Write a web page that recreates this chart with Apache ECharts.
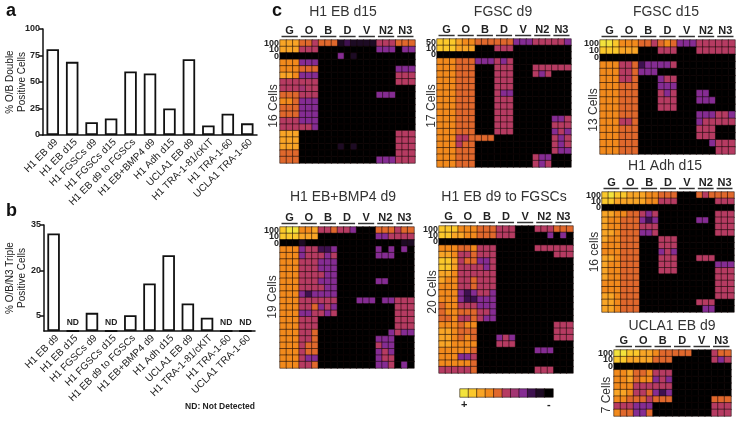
<!DOCTYPE html>
<html>
<head>
<meta charset="utf-8">
<style>html,body{margin:0;padding:0;background:#fff}#main{width:742px;height:422px}</style>
<script src="https://cdn.jsdelivr.net/npm/echarts@6/dist/echarts.min.js"></script>
</head>
<body>
<div id="main"></div>
<script>
var FONT = '"Liberation Sans", Arial, sans-serif';

var barCategories = ['H1 EB d9', 'H1 EB d15', 'H1 FGSCs d9', 'H1 FGSCs d15', 'H1 EB d9 to FGSCs', 'H1 EB+BMP4 d9', 'H1 Adh d15', 'UCLA1 EB d9', 'H1 TRA-1-81/cKIT', 'H1 TRA-1-60', 'UCLA1 TRA-1-60'];
var doublePositive = [81, 69, 12, 15.5, 60, 58, 25, 71.5, 9, 20, 11];
var triplePositive = [32.2, null, 6, null, 5.2, 15.7, 25, 9.1, 4.4, null, null];
var doubleTicks = [0, 25, 50, 75, 100];
var tripleTicks = [5, 20, 35];

var genes = ['G', 'O', 'B', 'D', 'V', 'N2', 'N3'];
var genesNoN2 = ['G', 'O', 'B', 'D', 'V', 'N3'];
var scaleLabels = ['100', '10', '0'];
var scaleLabelsFgsc = ['50', '10', '0'];

// level of each cell, 0 = black ... a = yellow, one group per gene
var h1EbD15 = [
	'888 665 666 121 111 555 666',
	'888 555 000 000 000 333 033',
	'000 000 000 301 000 000 000',
	'777 333 000 000 000 000 000',
	'777 666 000 000 000 000 333',
	'887 333 000 000 000 000 555',
	'555 555 000 000 000 000 555',
	'555 455 000 000 000 000 000',
	'666 555 000 000 000 333 000',
	'776 333 000 000 000 000 000',
	'666 333 000 000 000 000 000',
	'666 333 000 000 000 000 000',
	'555 333 000 000 000 000 000',
	'555 553 000 000 000 000 000',
	'888 000 000 000 000 000 555',
	'888 000 000 000 000 000 555',
	'888 000 000 101 000 000 555',
	'666 000 000 000 000 000 555',
	'666 000 000 000 000 333 555'
];
var fgscD9 = [
	'999 877 666 666 333 555 553',
	'999 888 000 555 000 000 000',
	'000 000 000 000 000 000 000',
	'777 666 333 535 000 000 000',
	'777 666 000 555 000 555 555',
	'777 666 000 555 000 535 000',
	'777 666 000 555 000 000 000',
	'777 666 000 555 000 000 000',
	'777 666 000 533 000 000 000',
	'777 666 000 555 000 000 000',
	'777 666 000 555 000 000 000',
	'777 666 000 555 000 000 000',
	'777 666 000 555 000 000 335',
	'777 666 000 555 000 000 555',
	'777 666 000 555 000 000 353',
	'777 556 666 000 000 000 535',
	'777 566 000 000 000 000 535',
	'777 666 000 000 000 000 533',
	'777 666 000 000 000 533 000',
	'777 666 000 000 000 535 000'
];
var fgscD15 = [
	'aa9 777 665 676 333 555 555',
	'999 888 000 555 000 555 555',
	'000 000 000 000 000 000 000',
	'777 556 233 335 000 000 000',
	'777 556 333 000 000 000 000',
	'777 556 000 355 000 000 000',
	'777 666 000 333 000 000 000',
	'777 666 000 535 000 330 000',
	'777 666 000 555 000 333 000',
	'777 666 000 555 000 000 000',
	'777 666 000 000 000 333 553',
	'777 556 000 000 000 355 555',
	'777 666 000 000 000 555 000',
	'777 666 000 000 000 555 000',
	'777 666 000 000 000 003 555',
	'777 666 000 000 000 000 555'
];
var h1AdhD15 = [
	'9a9 988 877 666 000 656 666',
	'998 888 877 555 000 000 555',
	'000 000 000 000 000 000 000',
	'887 766 535 000 000 000 555',
	'877 666 323 000 000 330 555',
	'877 666 555 000 000 000 555',
	'887 666 335 000 000 000 555',
	'877 666 000 555 000 000 000',
	'777 666 000 555 000 000 000',
	'777 666 000 353 000 000 000',
	'887 666 000 555 000 555 000',
	'877 666 000 555 000 000 333',
	'877 666 000 555 000 000 555',
	'877 666 000 000 000 000 555',
	'777 666 000 000 000 000 555',
	'777 666 000 000 000 000 555',
	'887 666 000 000 000 000 555',
	'887 666 000 000 000 555 000',
	'887 666 000 000 000 033 000'
];
var ucla1EbD9 = [
	'aa9 988 766 666 000 566',
	'998 888 666 000 000 535',
	'000 000 000 000 000 000',
	'778 667 555 000 000 000',
	'778 677 353 000 000 000',
	'777 555 555 000 000 000',
	'887 556 323 000 000 000',
	'776 665 666 000 000 666',
	'555 333 000 000 000 555',
	'766 336 000 000 000 555'
];
var h1EbBmp4 = [
	'9aa 778 556 553 000 666 566',
	'999 888 000 000 000 335 555',
	'000 100 000 000 000 000 011',
	'777 355 223 000 000 303 030',
	'777 355 535 000 000 333 000',
	'777 555 333 000 000 000 000',
	'777 555 333 000 000 000 000',
	'777 555 533 000 000 000 000',
	'777 555 333 000 000 330 000',
	'777 555 533 000 000 000 000',
	'777 323 333 000 000 000 000',
	'777 555 555 000 333 033 555',
	'777 556 353 000 000 000 555',
	'777 335 535 000 000 000 555',
	'777 555 000 000 000 000 555',
	'777 555 000 000 000 000 555',
	'777 556 000 000 000 003 533',
	'777 556 000 000 000 333 000',
	'777 566 000 000 000 533 000',
	'777 566 000 000 000 353 000',
	'777 533 000 000 000 355 000',
	'777 556 000 000 000 335 030'
];
var h1EbD9ToFgsc = [
	'999 777 666 555 000 555 666',
	'998 877 666 555 000 003 030',
	'000 000 000 000 000 000 000',
	'777 667 555 000 000 555 555',
	'887 556 555 000 000 000 555',
	'998 566 335 000 000 000 000',
	'998 555 535 000 000 000 000',
	'887 555 555 000 000 000 000',
	'877 556 555 000 000 000 000',
	'777 556 555 000 000 000 000',
	'777 323 553 000 000 000 000',
	'777 322 333 000 000 000 000',
	'677 555 333 000 000 000 000',
	'677 666 553 000 000 000 000',
	'667 556 533 000 000 000 000',
	'777 677 000 000 000 000 555',
	'887 666 000 000 000 000 555',
	'887 676 000 353 000 000 555',
	'887 777 000 555 000 000 000',
	'777 776 000 000 000 333 000',
	'777 335 000 000 000 000 000',
	'777 776 000 000 000 000 000',
	'555 556 000 000 000 555 000'
];
var scaleLevels = [10, 9, 8, 7, 6, 5, 4, 3, 2, 1, 0];
var scaleEnds = ['+', '', '', '', '', '', '', '', '', '', '-'];

var palette = ['#000000', '#1d0b24', '#3e1150', '#852c93', '#a33572', '#b63b62', '#e0682c', '#f28a1c', '#f9a526', '#fbc82b', '#f3e33c'];

var panels = [
	{ title: 'H1 EB d15', cx: 343, ty: 12, left: 280, top: 40, width: 135, height: 123, rows: h1EbD15, genes: genes, ticks: scaleLabels, cells: '16 Cells', cellsX: 274, cellsY: 106 },
	{ title: 'FGSC d9', cx: 503, ty: 12, left: 437, top: 39, width: 134, height: 128, rows: fgscD9, genes: genes, ticks: scaleLabelsFgsc, cells: '17 Cells', cellsX: 432, cellsY: 106 },
	{ title: 'FGSC d15', cx: 666, ty: 12, left: 600, top: 40, width: 135, height: 114, rows: fgscD15, genes: genes, ticks: scaleLabels, cells: '13 Cells', cellsX: 594, cellsY: 110 },
	{ title: 'H1 Adh d15', cx: 665, ty: 166, left: 602, top: 192, width: 132, height: 120, rows: h1AdhD15, genes: genes, ticks: scaleLabels, cells: '16 cells', cellsX: 595, cellsY: 252 },
	{ title: 'UCLA1 EB d9', cx: 672, ty: 326, left: 614, top: 350, width: 117, height: 66, rows: ucla1EbD9, genes: genesNoN2, ticks: scaleLabels, cells: '7 Cells', cellsX: 607, cellsY: 395 },
	{ title: 'H1 EB+BMP4 d9', cx: 343, ty: 197, left: 280, top: 227, width: 134, height: 141, rows: h1EbBmp4, genes: genes, ticks: scaleLabels, cells: '19 Cells', cellsX: 273, cellsY: 297 },
	{ title: 'H1 EB d9 to FGSCs', cx: 504, ty: 197, left: 439, top: 226, width: 134, height: 147, rows: h1EbD9ToFgsc, genes: genes, ticks: scaleLabels, cells: '20 Cells', cellsX: 433, cellsY: 292 }
];

var grids = [], xAxes = [], yAxes = [], series = [], titles = [], graphics = [], heatIndexes = [];

function panelLetter(text, x, y) {
	graphics.push({ type: 'text', left: x, top: y, silent: true, style: { text: text, font: 'bold 18px ' + FONT, fill: '#111' } });
}

function addBars(opt) {
	var idx = grids.length;
	grids.push({ left: opt.left, top: opt.top, width: opt.width, height: opt.height });
	xAxes.push({
		gridIndex: idx, type: 'category', data: barCategories,
		axisLine: { lineStyle: { color: '#111', width: 1.5 } },
		axisTick: { alignWithLabel: true, length: 3, lineStyle: { color: '#111', width: 1.5 } },
		axisLabel: { interval: 0, rotate: 45, fontSize: 10, fontFamily: FONT, color: '#222', margin: 2, verticalAlign: 'top' }
	});
	yAxes.push({
		gridIndex: idx, type: 'value', min: 0, max: opt.max,
		splitLine: { show: false },
		axisLine: { show: true, lineStyle: { color: '#111', width: 1.5 } },
		axisTick: { show: true, length: 4, lineStyle: { color: '#111', width: 1.5 }, customValues: opt.ticks },
		axisLabel: { fontSize: 9, fontWeight: 'bold', fontFamily: FONT, color: '#222', margin: 3, customValues: opt.ticks },
		name: opt.name, nameLocation: 'middle', nameGap: opt.nameGap, nameRotate: 90, nameMoveOverlap: false,
		nameTextStyle: { fontSize: 10, lineHeight: 12, fontFamily: FONT, color: '#222' }
	});
	series.push({
		type: 'bar', xAxisIndex: idx, yAxisIndex: idx, barWidth: 12.5, silent: true,
		itemStyle: { color: '#fff', borderColor: '#111', borderWidth: 1.8 },
		data: opt.values.map(function(v) {
			if (v !== null) return v;
			return { value: 0, label: { show: true, position: 'top', distance: 3, formatter: 'ND', fontSize: 8.5, fontWeight: 'bold', fontFamily: FONT, color: '#222' } };
		})
	});
}

function addHeat(opt, rows, cols) {
	var idx = grids.length;
	grids.push({ left: opt.left, top: opt.top, width: opt.width, height: opt.height });
	xAxes.push(cols);
	xAxes[idx].gridIndex = idx;
	yAxes.push({
		gridIndex: idx, type: 'category', inverse: true,
		data: rows.map(function(r, i) { return (opt.ticks && opt.ticks[i]) || ''; }),
		axisLine: { show: false }, axisTick: { show: false }, splitLine: { show: false },
		axisLabel: { show: !!opt.ticks, interval: 0, fontSize: 9, fontWeight: 'bold', fontFamily: FONT, color: '#222', margin: 1 }
	});
	var cells = [];
	rows.forEach(function(levels, y) {
		levels.forEach(function(v, x) { cells.push([x, y, v]); });
	});
	heatIndexes.push(series.length);
	series.push({
		type: 'heatmap', xAxisIndex: idx, yAxisIndex: idx, silent: true, progressive: 0,
		itemStyle: { borderColor: 'rgba(20,8,8,0.55)', borderWidth: 1 },
		data: cells
	});
}

addBars({ left: 43, top: 29, width: 214, height: 106, max: 100, ticks: doubleTicks, values: doublePositive, name: '% O/B Double\nPositive Cells', nameGap: 15 });
addBars({ left: 44, top: 225, width: 211, height: 106, max: 35, ticks: tripleTicks, values: triplePositive, name: '% O/B/N3 Triple\nPositive Cells', nameGap: 16 });

panels.forEach(function(p) {
	var cols = [];
	p.genes.forEach(function(g) { cols.push(g, g, g); });
	addHeat(p, p.rows.map(function(r) {
		return r.replace(/ /g, '').split('').map(function(c) { return parseInt(c, 16); });
	}), {
		type: 'category', position: 'top', data: cols,
		axisLine: { show: false }, axisTick: { show: false }, splitLine: { show: false },
		axisLabel: {
			interval: function(i) { return i % 3 === 1; },
			fontSize: 11, fontWeight: 'bold', fontFamily: FONT, color: '#222', margin: 4
		}
	});
	titles.push({ text: p.title, left: p.cx, top: p.ty - 7, textAlign: 'center', padding: 0, textStyle: { fontSize: 14, fontWeight: 'normal', fontFamily: FONT, color: '#333' } });
	var groupW = p.width / p.genes.length;
	p.genes.forEach(function(g, i) {
		graphics.push({ type: 'line', silent: true, shape: { x1: p.left + i * groupW + 1.5, y1: p.top - 3.5, x2: p.left + (i + 1) * groupW - 1.5, y2: p.top - 3.5 }, style: { stroke: '#333', lineWidth: 1.5 } });
	});
	graphics.push({ type: 'text', silent: true, x: p.cellsX, y: p.cellsY, rotation: Math.PI / 2, style: { text: p.cells, font: '12px ' + FONT, fill: '#333', align: 'center', verticalAlign: 'middle' } });
});

// colour scale under the FGSCs panel
addHeat({ left: 460, top: 389, width: 93, height: 8 }, [scaleLevels], {
	type: 'category', data: scaleEnds,
	axisLine: { show: false }, axisTick: { show: false }, splitLine: { show: false },
	axisLabel: { interval: 0, fontSize: 11, fontWeight: 'bold', fontFamily: FONT, color: '#222', margin: 2 }
});

panelLetter('a', 6, 2);
panelLetter('b', 6, 202);
panelLetter('c', 272, 2);
graphics.push({ type: 'text', silent: true, right: 487, top: 402, style: { text: 'ND: Not Detected', font: 'bold 8.5px ' + FONT, fill: '#222' } });

var chart = echarts.init(document.getElementById('main'));
chart.setOption({
	animation: false,
	backgroundColor: '#fff',
	title: titles,
	graphic: graphics,
	grid: grids,
	xAxis: xAxes,
	yAxis: yAxes,
	visualMap: { show: false, type: 'continuous', min: 0, max: 10, dimension: 2, seriesIndex: heatIndexes, inRange: { color: palette } },
	series: series
});
</script>
</body>
</html>
